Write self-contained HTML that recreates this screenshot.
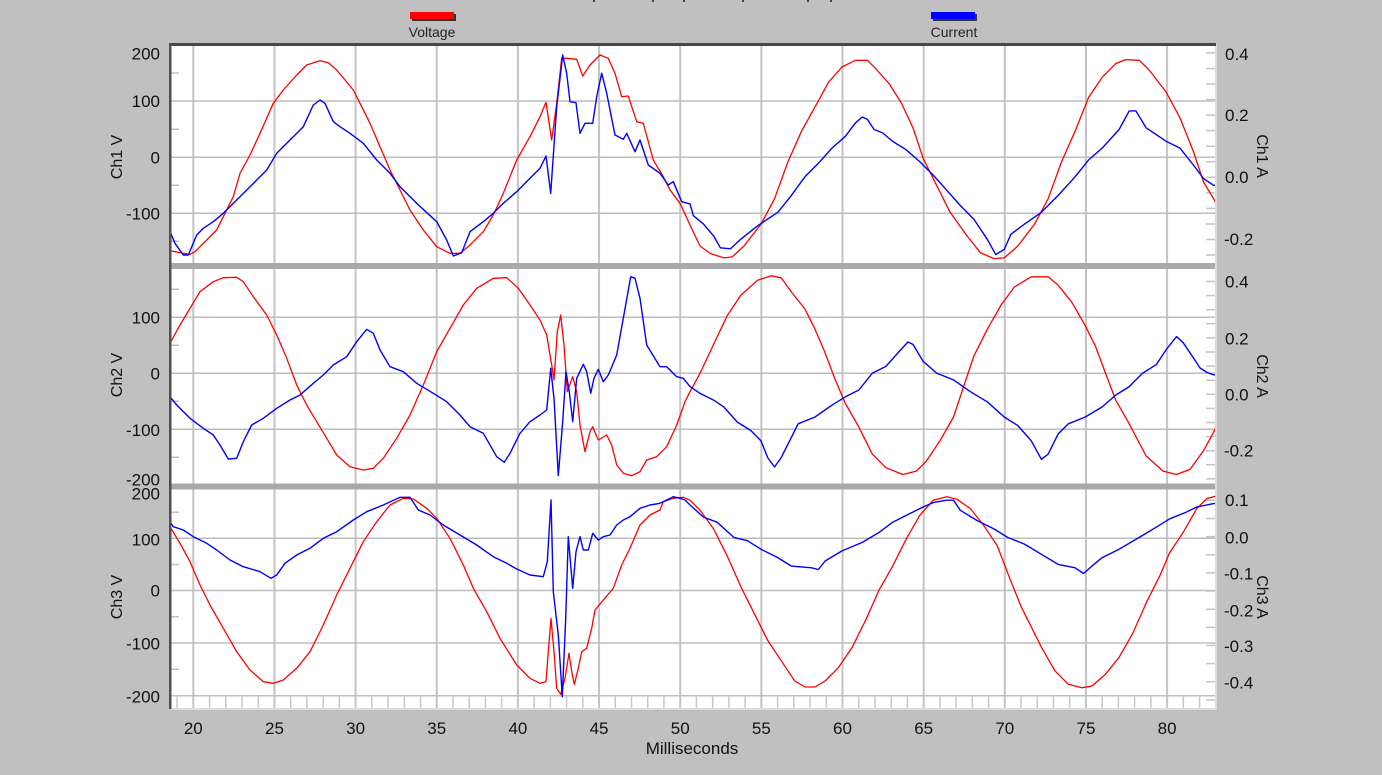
<!DOCTYPE html>
<html><head><meta charset="utf-8"><style>
html,body{margin:0;padding:0;background:#c0c0c0;}
svg{display:block;}
text{font-family:"Liberation Sans",Arial,sans-serif;fill:#111;}
.tk{font-size:17px;}
.ti{font-size:16px;}
.lg{font-size:14px;fill:#222;}
.r{fill:none;stroke:#ff0000;stroke-width:1.3;stroke-linejoin:round;}
.b{fill:none;stroke:#0000ff;stroke-width:1.4;stroke-linejoin:round;}
</style></head><body>
<svg width="1382" height="775" viewBox="0 0 1382 775" xmlns="http://www.w3.org/2000/svg">
<defs>
<clipPath id="c1"><rect x="171" y="45" width="1044" height="218"/></clipPath>
<clipPath id="c2"><rect x="171" y="269" width="1044" height="215"/></clipPath>
<clipPath id="c3"><rect x="171" y="489" width="1044" height="219"/></clipPath>
</defs>
<rect x="0" y="0" width="1382" height="775" fill="#c0c0c0"/>

<!-- top cut-off title remnants -->
<g fill="#444"><rect x="593" y="0" width="2" height="2"/><rect x="652" y="0" width="2" height="2"/><rect x="683" y="0" width="2" height="2"/><rect x="742" y="0" width="2" height="2"/><rect x="807" y="0" width="2" height="2"/><rect x="830" y="0" width="2" height="2"/></g>

<!-- legend -->
<rect x="412" y="14" width="44" height="7" fill="#333"/>
<rect x="410" y="12" width="44" height="7" fill="#ff0000"/>
<text class="lg" x="432" y="37" text-anchor="middle">Voltage</text>
<rect x="933" y="14" width="44" height="7" fill="#333"/>
<rect x="931" y="12" width="44" height="7" fill="#0000ff"/>
<text class="lg" x="954" y="37" text-anchor="middle">Current</text>

<!-- plot area -->
<rect x="170" y="44" width="1046" height="664" fill="#ffffff"/>
<rect x="1215" y="44" width="2" height="666" fill="#dcdcdc"/>
<rect x="170" y="708" width="1047" height="2" fill="#dcdcdc"/>

<!-- vertical gridlines -->
<path stroke="#c4c4c4" stroke-width="2" fill="none" d="M193.3 45V708M274.45 45V708M355.6 45V708M436.75 45V708M517.9 45V708M599.05 45V708M680.2 45V708M761.35 45V708M842.5 45V708M923.65 45V708M1004.8 45V708M1085.95 45V708M1167.1 45V708"/>

<!-- horizontal gridlines -->
<path stroke="#bdbdbd" stroke-width="1.5" fill="none" d="M170 101H1215M170 157.3H1215M170 213.3H1215M170 317.3H1215M170 373.3H1215M170 429.3H1215M170 538.3H1215M170 590.5H1215M170 643H1215M170 695.8H1215"/>

<!-- left minor ticks -->
<path stroke="#c0c0c0" stroke-width="1.5" fill="none" d="M170 73H179M170 129.3H179M170 185.3H179M170 241.3H179M170 289.3H179M170 345.3H179M170 401.3H179M170 457.3H179M170 512.3H179M170 564.5H179M170 616.8H179M170 669.3H179"/>

<!-- right ticks -->
<path stroke="#c4c4c4" stroke-width="1.5" fill="none" d="M1206 52.9H1215M1206 68.45H1215M1206 84H1215M1206 99.55H1215M1206 115.1H1215M1206 130.65H1215M1206 146.2H1215M1206 161.75H1215M1206 177.3H1215M1206 192.85H1215M1206 208.4H1215M1206 223.95H1215M1206 239.5H1215M1206 255.05H1215
M1206 281.5H1215M1206 295.6H1215M1206 309.7H1215M1206 323.8H1215M1206 337.9H1215M1206 352H1215M1206 366.1H1215M1206 380.2H1215M1206 394.3H1215M1206 408.4H1215M1206 422.5H1215M1206 436.6H1215M1206 450.7H1215M1206 464.8H1215M1206 478.9H1215
M1206 500.3H1215M1206 518.45H1215M1206 536.6H1215M1206 554.75H1215M1206 572.9H1215M1206 591.05H1215M1206 609.2H1215M1206 627.35H1215M1206 645.5H1215M1206 663.65H1215M1206 681.8H1215M1206 699.95H1215"/>

<!-- bottom minor x ticks -->
<path stroke="#c8c8c8" stroke-width="1.5" fill="none" d="M177.07 696V708M209.53 696V708M225.76 696V708M241.99 696V708M258.22 696V708M290.68 696V708M306.91 696V708M323.14 696V708M339.37 696V708M371.83 696V708M388.06 696V708M404.29 696V708M420.52 696V708M452.98 696V708M469.21 696V708M485.44 696V708M501.67 696V708M534.13 696V708M550.36 696V708M566.59 696V708M582.82 696V708M615.28 696V708M631.51 696V708M647.74 696V708M663.97 696V708M696.43 696V708M712.66 696V708M728.89 696V708M745.12 696V708M777.58 696V708M793.81 696V708M810.04 696V708M826.27 696V708M858.73 696V708M874.96 696V708M891.19 696V708M907.42 696V708M939.88 696V708M956.11 696V708M972.34 696V708M988.57 696V708M1021.03 696V708M1037.26 696V708M1053.49 696V708M1069.72 696V708M1102.18 696V708M1118.41 696V708M1134.64 696V708M1150.87 696V708M1183.33 696V708M1199.56 696V708"/>

<!-- Panel 1 -->
<g clip-path="url(#c1)">
<polyline class="r" points="170,250.7 183.3,253.3 190,254.3 195,251.7 203.3,243.3 216.7,230 225,213.3 233.3,196.7 240,173.3 250,155 260,133.3 273.3,103.3 283.3,90 296.7,75 306.7,65 320,60.7 328.3,62.7 336.7,70 353.3,90 361.7,106.7 370,123.3 380,146.7 390,170 400,190 410,210 423.3,230 436.7,246.7 450,253.3 460,253.3 470,245 483.3,231.7 493.3,215 503.3,193.3 516.7,160 530,136.7 540,116.7 546,102.3 551.7,140 556.7,103.3 561.7,58.3 566.7,58.3 576.7,59.3 582.7,76 590,65 600,55 608.3,58.3 615,73.3 621.7,96.7 628.3,96 636.7,121.7 643.3,123.3 653.3,160 663.3,176.7 670,190 680,203.3 690,225 700.1,246.1 710.3,253.5 723.8,257.9 732.2,256.9 744,246 761,224.1 774.5,198.8 788,161.6 801.5,131.2 818.4,100.8 828.5,82.2 842,67 855.5,60.3 867.4,60.3 875.8,68.7 889.3,83.9 901.1,102.5 913,127.8 923.1,158.2 936.6,185.3 950.1,212.3 967,235.9 980.5,252.8 994.1,258.6 1004.2,257.9 1017.7,246.1 1034.6,224.1 1048.1,198.8 1061.6,161.6 1075.1,131.2 1088.6,97.4 1102.2,77.2 1115.7,63.6 1125.8,59.6 1139.3,60.3 1149.5,70.4 1166.3,92.4 1179.9,117.7 1193.4,151.5 1203.5,181.9 1213.6,198.8 1216,203"/>
<polyline class="b" points="170,231.7 175,243.3 183.3,255 188.3,255 196.7,235 203.3,228.3 213.3,221.7 223.3,213.3 236.7,200 250,186.7 266.7,170 276.7,153.3 290,140 303.3,126.7 313.3,105 320,100 325,103.3 333.3,121.7 340,126.7 350,133.3 363.3,143.3 376.7,160 390,173.3 400,186.7 416.7,203.3 436.7,221.7 446.7,240 453.3,256 461.7,252.7 470,231.7 483.3,221.7 493.3,213.3 503.3,203.3 516.7,191.7 530,178.3 540,168.3 546,156 550.7,193.3 556.7,106.7 562.7,55 566.7,73.3 570,101.7 576,102.7 580,133.3 585,123.3 592.7,123.3 596.7,96.7 601.7,73.3 606.7,93.3 615,135 623.3,139.3 626.7,133.3 635,151.7 640,140 648.3,165 660,173.3 668.3,185 673.3,181.7 681.7,201.7 690,203.9 693.4,215.7 703.5,224.1 713.6,235.9 720.4,247.8 730.5,248.8 740.7,239.3 757.6,225.8 777.8,212.3 791.4,195.4 804.9,176.8 818.4,163.3 831.9,148.1 845.4,136.3 855.5,122.8 862.3,117 867.4,119.4 874.1,129.5 882.6,132.9 892.7,141.4 906.2,149.8 919.7,161.6 933.2,175.1 946.8,190.3 960.3,205.5 973.8,219.1 987.3,239.3 995.7,254.5 1004.2,249.5 1010.9,234.3 1024.5,224.1 1041.4,212.3 1058.2,195.4 1075.1,176.8 1088.6,159.9 1102.2,148.1 1119.1,129.5 1129.2,110.9 1135.9,110.9 1146.1,127.8 1156.2,134.6 1166.3,141.4 1179.9,148.1 1193.4,165 1203.5,178.5 1213.6,185.3 1216,185.3"/>
</g>

<!-- Panel 2 -->
<g clip-path="url(#c2)">
<polyline class="r" points="170,343.3 180,325 190,308.3 200,291.7 213.3,281.7 223.3,277.7 236.7,277.3 243.3,281.7 253.3,296.7 266.7,315 276.7,335 286.7,358.3 296.7,385 306.7,405 316.7,421.7 326.7,438.3 336.7,455 350,466.7 363.3,470 373.3,468.3 383.3,458.3 396.7,438.3 410,415 423.3,385 436.7,351.7 450,328.3 463.3,305 476.7,288.3 493.3,278.3 506.7,277.7 518.3,288.3 530,305 540,320 546.7,335 551.7,365 554,380 557.3,331.7 560.7,315 564,345 567.3,391.7 572.7,376.7 576.7,391.7 580,425 585,451.7 590,431.7 592.7,426.7 598.3,440 606.7,435 611.7,445 616.7,465 623.3,473.3 631.7,475.7 640,471.7 646.7,460 656.7,456.7 666.7,446.7 676.7,425 685,401.7 690,391.7 700.1,373.1 713.6,344.4 727.2,315.7 740.7,295.4 757.6,280.2 771.1,275.8 781.2,277.8 791.4,292 804.9,308.9 815,329.2 825.1,352.8 835.3,379.9 845.4,403.5 858.9,427.2 872.4,454.2 885.9,467.7 902.8,474.5 916.4,471.1 926.5,460.9 940,440.7 953.5,417 963.6,386.6 973.8,356.2 987.3,329.2 1000.8,305.5 1014.3,287 1031.2,276.8 1048.1,276.8 1058.2,285.3 1071.8,302.2 1085.3,325.8 1095.4,346.1 1105.5,373.1 1115.7,400.1 1129.2,423.8 1146.1,455.9 1163,471.1 1176.5,474.5 1190,469.4 1203.5,450.8 1213.6,432.2 1216,427"/>
<polyline class="b" points="170,396.7 176.7,405 190,418.3 203.3,428.3 213.3,435 220,445 228.3,459 236.7,458.3 243.3,441.7 251.7,425 263.3,418.3 276.7,408.3 290,400 300,395 313.3,383.3 323.3,375 333.3,365 346.7,356.7 356.7,341.7 366.7,329.3 373.3,333.3 380,350 390,366.7 403.3,371.7 416.7,383.3 433.3,393.3 446.7,401.7 460,415 470,426.7 483.3,433.3 496.7,456.7 504.3,462.3 510,453.3 520,433.3 530,421.7 540,415 546.7,410 550.7,368.3 554,398.3 558.3,475.7 562.7,421.7 566,371.7 569.3,391.7 572.7,421.7 576.7,378.3 583.3,364.3 586.7,371.7 590.7,393.3 594,378.3 598.3,369.3 603.3,381.7 608.3,375 616.7,355 623.3,318.3 630.7,276.7 635,278.3 640,298.3 646.7,345 660,366.7 666.7,366.7 676.7,376.7 683.3,378.3 690,386.6 700.1,393.4 713.6,400.1 723.8,406.9 737.3,422.1 750.8,430.5 760.9,440.7 767.7,457.6 774.5,467 781.2,457.6 791.4,437.3 798.1,423.8 815,417 831.9,405.2 845.4,396.8 858.9,390 872.4,373.1 885.9,366.4 899.5,351.1 907.9,342 913,344.4 923.1,361.3 936.6,373.1 953.5,379.9 970.4,391.7 987.3,401.8 1004.2,417 1017.7,425.5 1031.2,440.7 1041.4,459.3 1048.1,454.2 1058.2,433.9 1068.4,423.8 1085.3,417 1102.2,406.9 1115.7,395.1 1129.2,386.6 1142.7,373.1 1156.2,364.7 1166.3,349.5 1176.5,336.6 1183.2,342.7 1193.4,357.9 1200.1,368 1206.9,372.4 1213.6,374.8 1216,374.8"/>
</g>

<!-- Panel 3 -->
<g clip-path="url(#c3)">
<polyline class="r" points="170,526.7 180,543.3 190,561.7 200,585 210,605 223.3,628.3 236.7,651.7 250,670 263.3,681.7 273.3,683.3 283.3,680 296.7,668.3 310,651.7 323.3,625 336.7,595 350,568.3 363.3,541.7 376.7,521.7 390,505 403.3,498.3 413.3,499 426.7,508.3 436.7,518.3 450,538.3 463.3,565 473.3,588.3 486.7,611.7 500,638.3 516.7,665 530,678.3 540,683.3 546,681.7 548.3,651.7 551,618.3 554,651.7 556.7,688.3 560.7,694.3 565,678.3 569,653.3 571.7,671.7 574.3,684.3 578.3,668.3 581.7,651.7 586.7,648.3 591.7,628.3 595,610 603.3,600 613.3,588.3 621.7,565 630,548.3 640,525 650,515 660,510 663.3,501.7 673.3,498.3 683.3,497.3 690,500.2 700.1,510.3 713.6,528.9 727.2,555.9 740.7,586.4 754.2,613.4 767.7,640.4 781.2,660.7 794.7,680.9 804.9,687 815,687 825.1,681 838.6,667.4 852.2,647.2 865.7,620.1 879.2,589.7 892.7,566.1 906.2,539.1 919.7,515.4 933.2,500.2 946.8,496.8 956.9,499.2 970.4,508.6 983.8,525.5 997.3,545.8 1007.6,572.8 1021.1,606.6 1041.4,647.2 1054.9,670.8 1068.4,684.3 1081.9,687.7 1092,686 1105.5,674.2 1119.1,657.3 1132.6,633.6 1146.1,603.2 1159.6,576.2 1169.7,552.6 1183.2,532.3 1196.8,508.6 1206.9,498.5 1213.6,496.8 1216,496"/>
<polyline class="b" points="170,521.7 173.3,526.7 183.3,530 193.3,536.7 206.7,543.3 216.7,550 230,560 243.3,566.7 260,571.7 271,578.3 276.7,575 285,563.3 296.7,555 310,548.3 323.3,538.3 336.7,531.7 353.3,520 366.7,511.7 383.3,505 400,497.3 410,497.3 418.3,510 430,515 443.3,525 460,535 476.7,545 493.3,556.7 506.7,563.3 516.7,569 530,575 543.3,576.7 547.3,561.7 551,500 553.3,591.7 558.3,635 562.3,696.7 565.7,618.3 568.3,536.7 572.7,588.3 576,551.7 580,536.7 583.3,550 588.3,550 592.7,533.3 598.3,540 603.3,536.7 610,535 616.7,525 623.3,520 630,516.7 640,508.3 650,505 660,503.3 666.7,500 673.3,496.7 680,498.3 685,500 690,505 703.5,517.1 717,522.2 733.9,537.4 747.4,540.7 760.9,549.2 777.8,557.6 791.4,566.1 811.6,567.8 818.4,569.5 825.1,561 842,550.9 862.3,542.4 879.2,532.3 892.7,522.2 906.2,515.4 923.1,507 933.2,502.6 946.8,500.2 953.5,500.2 960.3,510.3 977,520.5 993.9,528.9 1007.6,537.4 1024.5,544.1 1041.4,554.3 1058.2,564.4 1075.1,567.8 1083.6,573.5 1091.9,566.1 1102.2,557.6 1119.1,549.2 1139.3,537.4 1156.2,527.2 1169.7,518.8 1186.6,512 1196.8,507 1213.6,503.6 1216,503.6"/>
</g>

<!-- separator bands -->
<rect x="171" y="263" width="1044" height="6" fill="#a9a9a9"/>
<rect x="171" y="483.5" width="1044" height="6" fill="#a9a9a9"/>

<!-- borders -->
<rect x="169" y="43" width="1047" height="3" fill="#474747"/>
<rect x="169" y="43" width="2.5" height="666" fill="#505050"/>

<!-- left tick labels -->
<g class="tk" text-anchor="end">
<text x="160" y="59.3">200</text>
<text x="160" y="107">100</text>
<text x="160" y="163.3">0</text>
<text x="160" y="219.3">-100</text>
<text x="160" y="323.7">100</text>
<text x="160" y="379.3">0</text>
<text x="160" y="436">-100</text>
<text x="160" y="485.3">-200</text>
<text x="160" y="499.3">200</text>
<text x="160" y="545.3">100</text>
<text x="160" y="596.7">0</text>
<text x="160" y="649.3">-100</text>
<text x="160" y="702.7">-200</text>
</g>

<!-- right tick labels -->
<g class="tk">
<text x="1225" y="60">0.4</text>
<text x="1225" y="121">0.2</text>
<text x="1225" y="183">0.0</text>
<text x="1224" y="245">-0.2</text>
<text x="1225" y="287.7">0.4</text>
<text x="1225" y="344.3">0.2</text>
<text x="1225" y="400.3">0.0</text>
<text x="1224" y="456.7">-0.2</text>
<text x="1225" y="506">0.1</text>
<text x="1225" y="543.3">0.0</text>
<text x="1224" y="579.3">-0.1</text>
<text x="1224" y="616.7">-0.2</text>
<text x="1224" y="652">-0.3</text>
<text x="1224" y="688.7">-0.4</text>
</g>

<!-- axis titles -->
<g class="ti" text-anchor="middle">
<text transform="translate(122,157) rotate(-90)">Ch1 V</text>
<text transform="translate(122,375) rotate(-90)">Ch2 V</text>
<text transform="translate(122,597) rotate(-90)">Ch3 V</text>
<text transform="translate(1257,156) rotate(90)">Ch1 A</text>
<text transform="translate(1257,376) rotate(90)">Ch2 A</text>
<text transform="translate(1257,597) rotate(90)">Ch3 A</text>
</g>

<!-- x tick labels -->
<g class="tk" text-anchor="middle">
<text x="193.3" y="734">20</text>
<text x="274.45" y="734">25</text>
<text x="355.6" y="734">30</text>
<text x="436.75" y="734">35</text>
<text x="517.9" y="734">40</text>
<text x="599.05" y="734">45</text>
<text x="680.2" y="734">50</text>
<text x="761.35" y="734">55</text>
<text x="842.5" y="734">60</text>
<text x="923.65" y="734">65</text>
<text x="1004.8" y="734">70</text>
<text x="1085.95" y="734">75</text>
<text x="1167.1" y="734">80</text>
</g>
<text class="tk" x="692" y="754" text-anchor="middle">Milliseconds</text>
</svg>
</body></html>
